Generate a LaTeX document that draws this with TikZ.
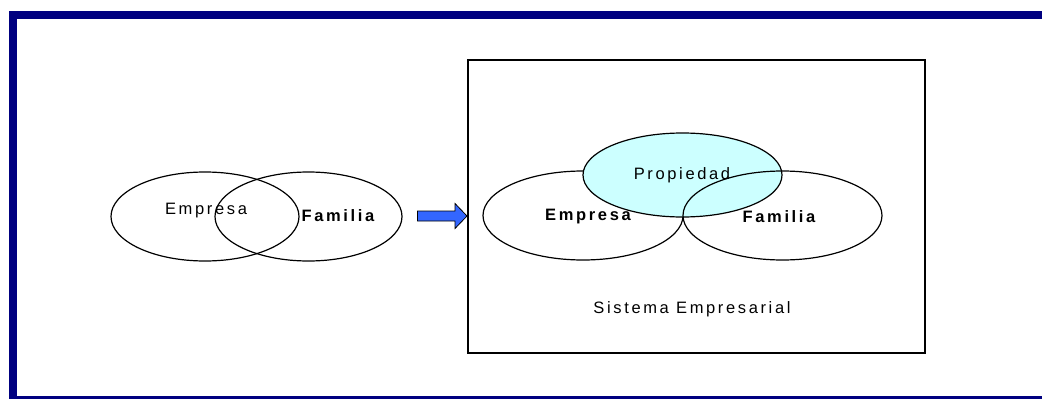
\documentclass[tikz,border=0pt]{standalone}
\usepackage{fontspec}
\setmainfont{Liberation Sans}[LetterSpace=16]
\usetikzlibrary{shapes.geometric}
\definecolor{framenavy}{RGB}{0,0,128}
\definecolor{ownfill}{RGB}{204,255,255}
\definecolor{arrowblue}{RGB}{51,102,255}
\tikzset{
  set/.style={ellipse, draw=black, line width=1.2pt, inner sep=0pt},
  lbl/.style={inner sep=0pt, font=\fontsize{16.5}{19}\selectfont},
  lblb/.style={lbl, font=\fontsize{16.5}{19}\selectfont\bfseries},
  band/.style={fill=framenavy, draw=none}
}
\begin{document}
\begin{tikzpicture}[x=1pt, y=-1pt]
  \useasboundingbox (0,0) rectangle (1042,399);
  % page frame
  \fill[band] (9,11) rectangle (1042,19);
  \fill[band] (9,11) rectangle (17,399);
  \fill[band] (9,395.5) rectangle (1042,399);

  % two overlapping subsystems
  \node[set, minimum width=188pt, minimum height=89pt] (e1) at (205,216.5) {};
  \node[set, minimum width=187pt, minimum height=89pt] (f1) at (308.5,216.5) {};
  \node[lbl]  (te1) at (206,211) {Empresa};
  \node[lblb] (tf1) at (338,216) {Familia};

  % transition arrow
  \filldraw[fill=arrowblue, draw=black, line width=0.8pt]
    (417.5,211) -- (455,211) -- (455,203.5) -- (467,216) -- (455,228.5)
    -- (455,221) -- (417.5,221) -- cycle;

  % system boundary
  \node[draw=black, line width=1.4pt, minimum width=457pt, minimum height=293pt, inner sep=0pt]
    (sys) at (696.5,206.5) {};

  % three-circle model
  \node[set, fill=white, minimum width=200pt, minimum height=89pt] (e2) at (583,215.5) {};
  \node[set, fill=ownfill, minimum width=199pt, minimum height=84pt] (p2) at (682.5,175) {};
  \node[set, minimum width=199pt, minimum height=89pt] (f2) at (782.5,215.5) {};
  \node[lbl]  (tp2) at (682,175.5) {Propiedad};
  \node[lblb] (te2) at (588,217) {Empresa};
  \node[lblb] (tf2) at (779,217) {Familia};
  \node[lbl]  (ts)  at (692,309) {Sistema Empresarial};
\end{tikzpicture}
\end{document}
